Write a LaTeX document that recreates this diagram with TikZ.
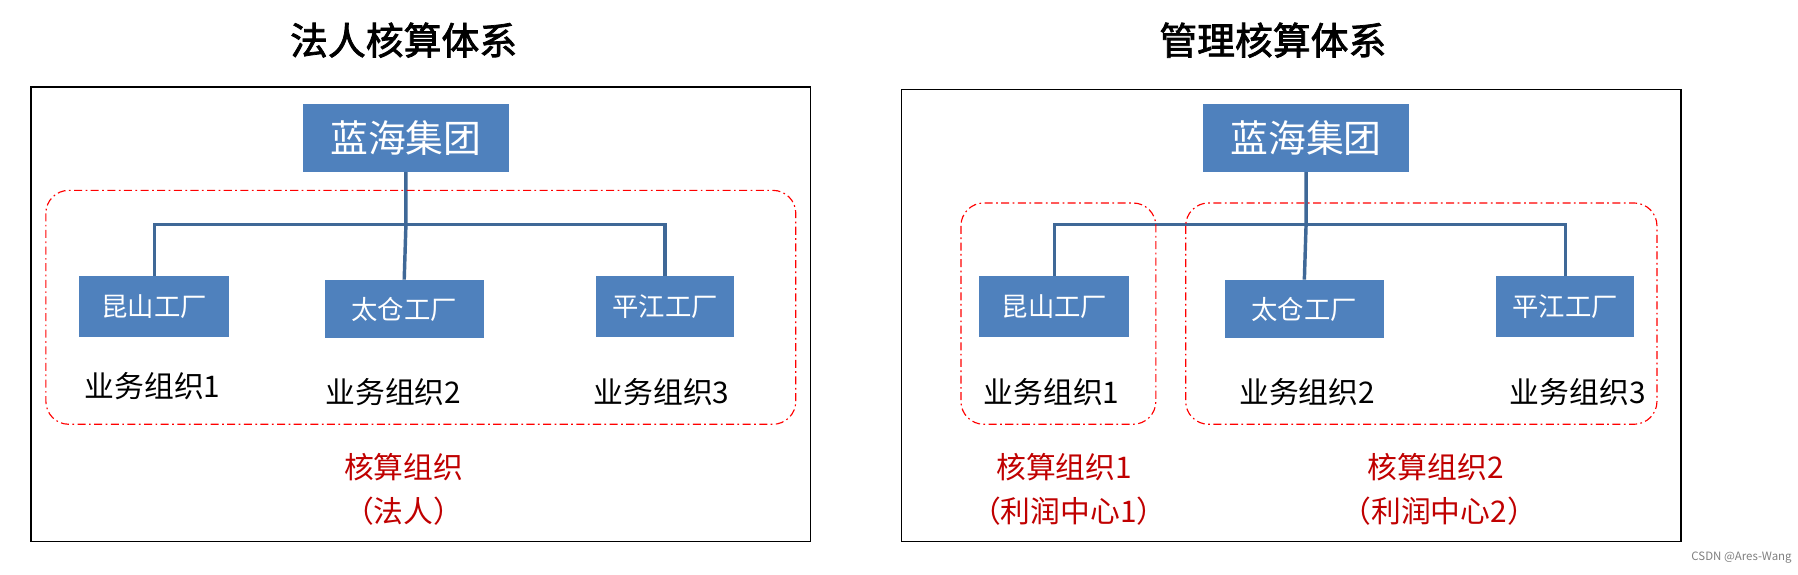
\documentclass[tikz,border=0pt]{standalone}
\usepackage{fontspec}
\setmainfont{Noto Sans CJK SC}
\newfontfamily\cjkb[FakeBold=2]{Noto Sans CJK SC}
\begin{document}
\begin{tikzpicture}[x=1pt,y=-1pt,
  bbox/.style={fill=boxblue,text=white,inner sep=0pt,font=\fontsize{23}{23}\selectfont},
  lbl/.style={font=\fontsize{26}{26}\selectfont},
  red/.style={text=redtxt,font=\fontsize{26}{26}\selectfont},
  group/.style={draw=red,dash pattern=on 7pt off 3pt on 1.5pt off 3pt,rounded corners=20pt,line width=1pt},
  conn/.style={draw=lineblue,line width=3pt},
  frame/.style={draw=black,line width=1.2pt}]
\definecolor{boxblue}{HTML}{4F81BD}
\definecolor{lineblue}{HTML}{3F6897}
\definecolor{redtxt}{HTML}{C00000}
\useasboundingbox[fill=white] (0,0) rectangle (1568,501);
\node[font=\cjkb\fontsize{33}{33}\selectfont] (t1) at (352,35) {法人核算体系};
\node[font=\cjkb\fontsize{33}{33}\selectfont] (t2) at (1110,35) {管理核算体系};
\draw[frame] (27,76) rectangle (707,472);
\draw[frame] (786,78) rectangle (1466,472);
% left
\node[bbox,minimum width=180,minimum height=59,font=\fontsize{33}{33}\selectfont] (g1) at (354,120.5) {蓝海集团};
\node[bbox,minimum width=131,minimum height=53] (a1) at (134.5,267.5) {昆山工厂};
\node[bbox,minimum width=139,minimum height=51] (b1) at (352.5,269.5) {太仓工厂};
\node[bbox,minimum width=120,minimum height=53] (c1) at (580,267.5) {平江工厂};
\coordinate (j1) at (354,196);
\draw[conn] (g1.south) -- (j1) -- (b1.north);
\draw[conn] (a1.north) -- (a1.north |- j1) -- (c1.north |- j1) -- (c1.north);
\node[lbl] (la1) at (133,337) {业务组织1};
\node[lbl] (lb1) at (343,342) {业务组织2};
\node[lbl] (lc1) at (577,342) {业务组织3};
\draw[group] (40,166) rectangle (694,370);
\node[red] (r1) at (352,407) {核算组织};
\node[red] (r2) at (352,446) {（法人）};
% right
\node[bbox,minimum width=180,minimum height=59,font=\fontsize{33}{33}\selectfont] (g2) at (1139,120.5) {蓝海集团};
\node[bbox,minimum width=131,minimum height=53] (a2) at (919.5,267.5) {昆山工厂};
\node[bbox,minimum width=139,minimum height=51] (b2) at (1137.5,269.5) {太仓工厂};
\node[bbox,minimum width=120,minimum height=53] (c2) at (1365,267.5) {平江工厂};
\coordinate (j2) at (1139,196);
\draw[conn] (g2.south) -- (j2) -- (b2.north);
\draw[conn] (a2.north) -- (a2.north |- j2) -- (c2.north |- j2) -- (c2.north);
\node[lbl] (la2) at (917,342) {业务组织1};
\node[lbl] (lb2) at (1140,342) {业务组织2};
\node[lbl] (lc2) at (1376,342) {业务组织3};
\draw[group] (838,177) rectangle (1008,370);
\draw[group] (1034,177) rectangle (1445,370);
\node[red] (r3) at (928,407) {核算组织1};
\node[red] (r4) at (932,446) {（利润中心1）};
\node[red] (r5) at (1252,407) {核算组织2};
\node[red] (r6) at (1255,446) {（利润中心2）};
\node[text=gray,font=\fontsize{10}{10}\selectfont,anchor=east] (wm) at (1566,486) {CSDN @Ares-Wang};
\end{tikzpicture}
\end{document}
